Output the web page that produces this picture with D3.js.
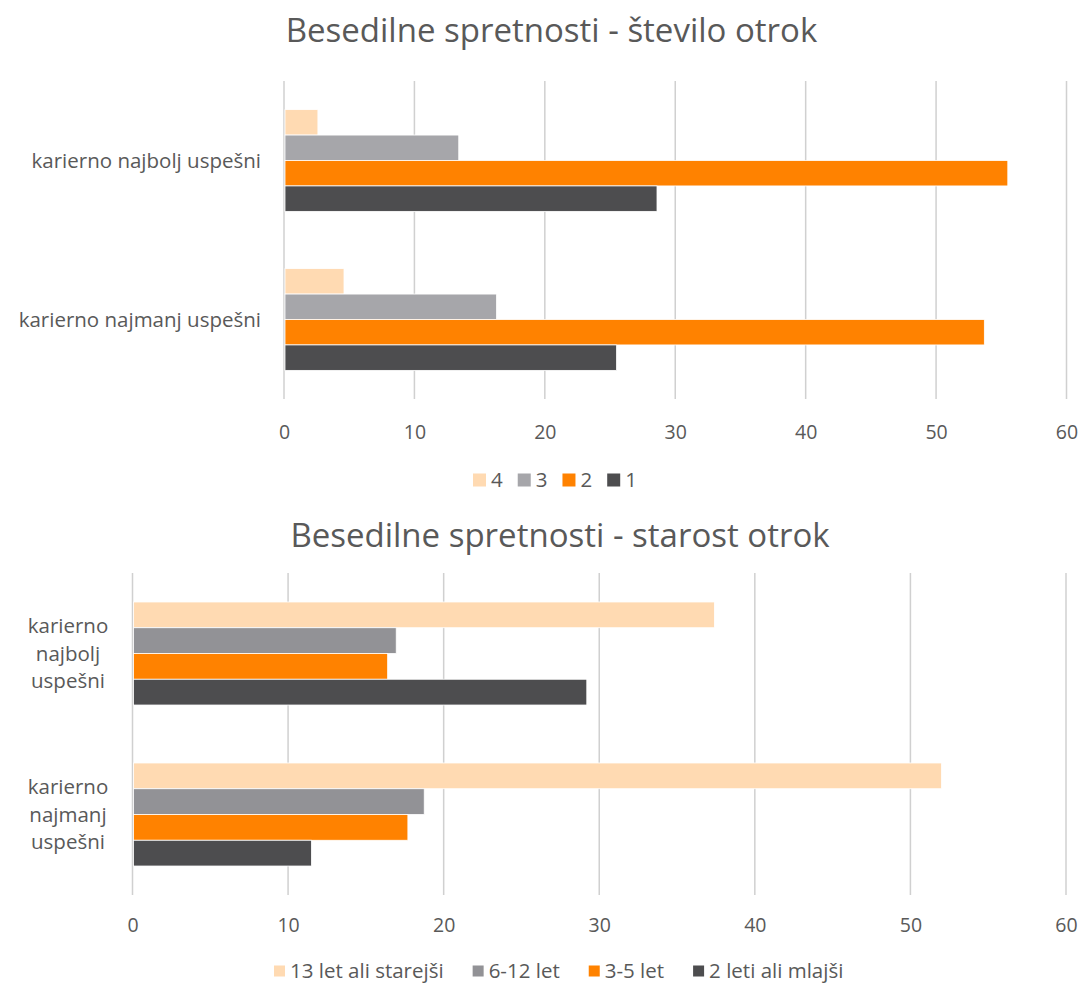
<!DOCTYPE html>
<html>
<head>
<meta charset="utf-8">
<script src="https://cdn.jsdelivr.net/npm/d3@7/dist/d3.min.js"></script>
<style>
  html, body { margin: 0; padding: 0; background: #fff; }
  svg { display: block; font-family: "Open Sans", "Noto Sans", sans-serif; }
</style>
</head>
<body>
<svg id="chart" width="1081" height="984"></svg>
<script>
// Categories shared by both panels
const categories = ["karierno najbolj uspešni", "karierno najmanj uspešni"];

// Panel 1: number of children
const countTitle = "Besedilne spretnosti - število otrok";
const countSeries = ["4", "3", "2", "1"];
const countValues = [
  [2.6, 4.6],    // 4
  [13.4, 16.3],  // 3
  [55.5, 53.7],  // 2
  [28.6, 25.5]   // 1
];
const countColors = ["#FFDAB2", "#A6A6AA", "#FF8200", "#4D4D4F"];

// Panel 2: age of children
const ageTitle = "Besedilne spretnosti - starost otrok";
const ageSeries = ["13 let ali starejši", "6-12 let", "3-5 let", "2 leti ali mlajši"];
const ageValues = [
  [37.4, 52.0],  // 13 let ali starejši
  [16.95, 18.75],// 6-12 let
  [16.4, 17.7],  // 3-5 let
  [29.2, 11.5]   // 2 leti ali mlajši
];
const ageColors = ["#FFDAB2", "#929296", "#FF8200", "#4D4D4F"];

const xTicks = [0, 10, 20, 30, 40, 50, 60];

const svg = d3.select("#chart");
const textColor = "#595959";
const gridColor = "#D0D0D0";

function drawPanel(cfg) {
  const g = svg.append("g");
  const x = d3.scaleLinear().domain([0, 60]).range([cfg.x0, cfg.x1]);
  const y = d3.scaleBand().domain(categories).range([cfg.y0, cfg.y1])
    .paddingInner(0.36).paddingOuter(0.18);
  const ySub = d3.scaleBand().domain(cfg.series).range([0, y.bandwidth()]);

  // title
  g.append("text")
    .attr("x", cfg.titleX).attr("y", cfg.titleY)
    .attr("text-anchor", "middle")
    .attr("font-size", 33)
    .attr("fill", textColor)
    .text(cfg.title);

  // vertical gridlines
  g.append("g").selectAll("line").data(xTicks).join("line")
    .attr("x1", d => x(d)).attr("x2", d => x(d))
    .attr("y1", cfg.y0).attr("y2", cfg.y1)
    .attr("stroke", gridColor).attr("stroke-width", 1.5);

  // bars
  cfg.series.forEach((s, si) => {
    g.append("g").selectAll("rect").data(categories).join("rect")
      .attr("x", x(0) + 1)
      .attr("y", c => y(c) + ySub(s))
      .attr("width", (c, ci) => x(cfg.values[si][ci]) - x(0) - 1)
      .attr("height", ySub.bandwidth())
      .attr("fill", cfg.colors[si])
      .attr("stroke", "#ffffff").attr("stroke-width", 0.8);
  });

  // x axis tick labels
  const axis = g.append("g")
    .attr("transform", `translate(0,${cfg.tickY})`)
    .call(d3.axisBottom(x).tickValues(xTicks).tickSize(0).tickPadding(0));
  axis.select(".domain").remove();
  axis.selectAll("text")
    .attr("font-size", 19.5).attr("fill", textColor)
    .attr("font-family", "'Open Sans', sans-serif")
    .attr("dy", "0.35em").attr("y", 0);

  // category labels
  categories.forEach(c => {
    const cy = y(c) + y.bandwidth() / 2;
    const lines = cfg.wrap ? c.split(" ") : [c];
    const lh = 27.5;
    const t = g.append("text")
      .attr("font-size", 20.5).attr("fill", textColor)
      .attr("text-anchor", cfg.wrap ? "middle" : "end");
    lines.forEach((ln, i) => {
      t.append("tspan")
        .attr("x", cfg.labelX)
        .attr("y", cy + (i - (lines.length - 1) / 2) * lh)
        .attr("dy", "0.35em")
        .text(ln);
    });
  });

  // legend
  const lg = g.append("g");
  let lx = cfg.legendX;
  cfg.series.forEach((s, si) => {
    lg.append("rect")
      .attr("x", lx).attr("y", cfg.legendY - cfg.swatch / 2)
      .attr("width", cfg.swatch).attr("height", cfg.swatch)
      .attr("fill", cfg.colors[si]);
    const t = lg.append("text")
      .attr("x", lx + cfg.swatch + 5).attr("y", cfg.legendY)
      .attr("dy", "0.35em")
      .attr("font-size", 20.5).attr("fill", textColor)
      .text(s);
    lx += cfg.swatch + 5 + t.node().getComputedTextLength() + cfg.legendGap;
  });
}

drawPanel({
  title: countTitle, titleX: 551.5, titleY: 42,
  series: countSeries, values: countValues, colors: countColors,
  x0: 284, x1: 1066.5, y0: 81, y1: 399,
  tickY: 432, labelX: 261, wrap: false,
  legendX: 473, legendY: 480, swatch: 13, legendGap: 15
});

drawPanel({
  title: ageTitle, titleX: 560, titleY: 547,
  series: ageSeries, values: ageValues, colors: ageColors,
  x0: 132.5, x1: 1066, y0: 573, y1: 895,
  tickY: 925, labelX: 68, wrap: true,
  legendX: 274, legendY: 971, swatch: 11, legendGap: 29
});
</script>
</body>
</html>
